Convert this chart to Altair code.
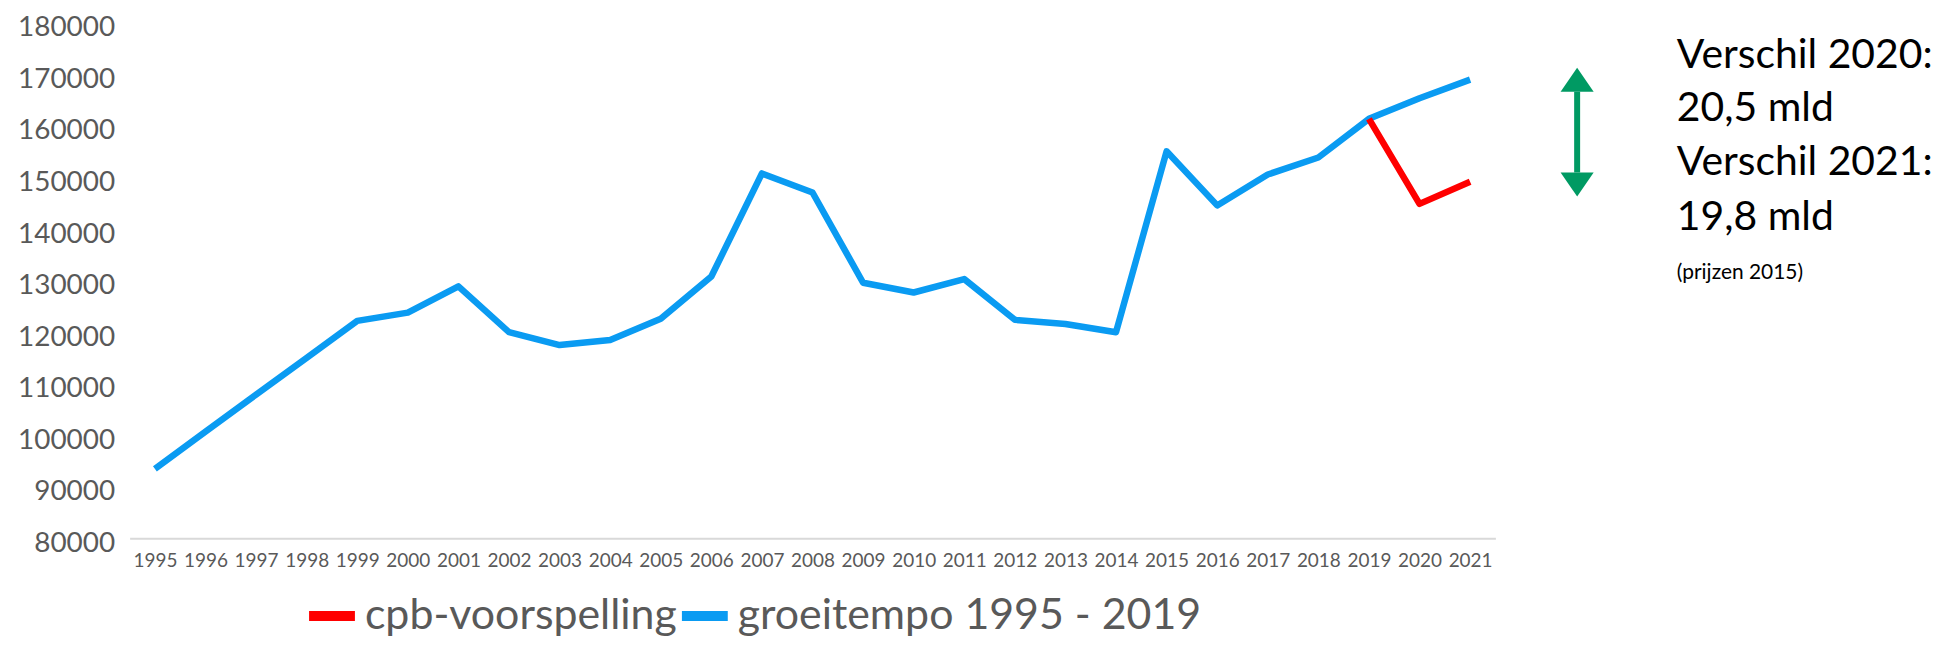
import altair as alt
import pandas as pd

years = [str(y) for y in range(1995, 2022)]
groeitempo = [93500, 100700, 107900, 115000, 122200, 123800, 128900, 120000,
              117500, 118500, 122600, 130800, 150800, 147100, 129600, 127700,
              130300, 122400, 121600, 120000, 155100, 144600, 150600, 153900,
              161400, 165400, 169000]
cpb_years = ["2019", "2020", "2021"]
cpb = [161400, 144900, 149200]

series_names = ["cpb-voorspelling", "groeitempo 1995 - 2019"]
series_colors = ["#FF0000", "#0A9BF2"]
y_ticks = list(range(80000, 180001, 10000))

note_lines = ["Verschil 2020:", "20,5 mld", "Verschil 2021:", "19,8 mld"]
note_small = "(prijzen 2015)"

rows = [{"jaar": y, "waarde": v, "reeks": series_names[1]} for y, v in zip(years, groeitempo)]
rows += [{"jaar": y, "waarde": v, "reeks": series_names[0]} for y, v in zip(cpb_years, cpb)]
df = pd.DataFrame(rows)

FONT = "Lato"
GRAY = "#595959"
W, H = 1370, 517

lines = alt.Chart(df).mark_line(strokeWidth=6.5, strokeJoin="round").encode(
    x=alt.X("jaar:O", sort=years, scale=alt.Scale(domain=years),
            axis=alt.Axis(title=None, labelAngle=0, labelFont=FONT, labelFontSize=19,
                          labelColor=GRAY, ticks=False, domainColor="#D9D9D9",
                          domainWidth=2, labelPadding=13, grid=False)),
    y=alt.Y("waarde:Q", scale=alt.Scale(domain=[80000, 180000], nice=False, zero=False),
            axis=alt.Axis(title=None, values=y_ticks, format="d", labelFont=FONT,
                          labelFontSize=28, labelColor=GRAY, ticks=False, domain=False,
                          grid=False, labelPadding=15, labelOffset=5)),
    color=alt.Color("reeks:N", scale=alt.Scale(domain=series_names, range=series_colors),
                    legend=alt.Legend(orient="none", legendX=175, legendY=567,
                                      direction="horizontal", title=None,
                                      symbolType="stroke", symbolStrokeWidth=10,
                                      symbolSize=2116, labelFont=FONT, labelFontSize=43,
                                      labelColor=GRAY, labelOffset=5, columnPadding=-16,
                                      labelLimit=800, padding=0)),
)

one = pd.DataFrame({"a": [0]})
ARROW_X = 1452
arrow_color = "#009A63"
shaft = alt.Chart(one).mark_rule(color=arrow_color, strokeWidth=6).encode(
    x=alt.value(ARROW_X), y=alt.value(91 - 22), y2=alt.value(172 - 22))
head_up = alt.Chart(one).mark_point(filled=True, color=arrow_color, opacity=1,
                                    shape="M-1,0L1,0L0,-1.45Z", size=1100).encode(
    x=alt.value(ARROW_X), y=alt.value(91 - 22))
head_down = alt.Chart(one).mark_point(filled=True, color=arrow_color, opacity=1,
                                      shape="M-1,0L1,0L0,1.45Z", size=1100).encode(
    x=alt.value(ARROW_X), y=alt.value(172 - 22))

TEXT_X = 1552
note_y = [33, 86, 141, 196]
notes = []
for txt, yy in zip(note_lines, note_y):
    notes.append(alt.Chart(one).mark_text(text=txt, font=FONT, fontSize=41, color="#000000",
                                          align="left", baseline="middle").encode(
        x=alt.value(TEXT_X), y=alt.value(yy)))
notes.append(alt.Chart(one).mark_text(text=note_small, font=FONT, fontSize=21, color="#000000",
                                      align="left", baseline="middle").encode(
    x=alt.value(TEXT_X), y=alt.value(251)))

chart = alt.layer(lines, shaft, head_up, head_down, *notes).properties(
    width=W, height=H,
    autosize=alt.AutoSizeParams(type="none"),
    padding={"left": 122, "top": 14, "right": 450, "bottom": 110},
).configure(background="#FFFFFF").configure_view(strokeWidth=0, stroke=None)

chart.save("out.html", embed_options={"renderer": "svg", "actions": False})
